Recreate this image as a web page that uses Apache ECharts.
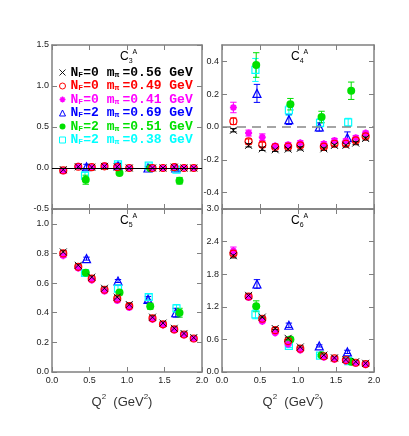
<!DOCTYPE html>
<html><head><meta charset="utf-8">
<script src="https://cdn.jsdelivr.net/npm/echarts@6/dist/echarts.min.js"></script>
<style>html,body{margin:0;padding:0;background:#fff}#c{width:409px;height:436px}</style>
</head><body><div id="c"></div>
<script>
// Q^2 values (GeV^2)
const q2Quenched = [0.15, 0.35, 0.53, 0.70, 0.87, 1.03, 1.34, 1.48, 1.63, 1.76, 1.89];
const q2Blue  = [0.46, 0.88, 1.28, 1.65];
const q2Green = [0.45, 0.90, 1.31, 1.70];
const q2Cyan  = [0.44, 0.88, 1.29, 1.66];

// C3^A
const c3Black   = [-0.02, 0.015, 0.01, 0.02, 0.015, 0.0, 0.0, 0.0, 0.01, 0.0, 0.0];
const c3Red     = [-0.03, 0.015, 0.01, 0.02, 0.01, 0.0, 0.0, 0.0, 0.01, 0.0, 0.0];
const c3Magenta = [-0.035, 0.02, 0.005, 0.028, 0.02, 0.0, 0.0, 0.0, 0.01, 0.005, 0.0];
const c3BlackErr   = [0.01, 0.01, 0.01, 0.01, 0.01, 0.01, 0.01, 0.01, 0.01, 0.01, 0.01];
const c3RedErr     = [0.02, 0.01, 0.01, 0.01, 0.01, 0.01, 0.01, 0.01, 0.01, 0.01, 0.01];
const c3MagentaErr = [0.03, 0.015, 0.015, 0.015, 0.015, 0.01, 0.01, 0.01, 0.01, 0.01, 0.01];
const c3Blue  = [0.015, 0.03, 0.0, 0.0];     const c3BlueErr  = [0.03, 0.02, 0.02, 0.02];
const c3Green = [-0.143, -0.061, -0.003, -0.155]; const c3GreenErr = [0.055, 0.02, 0.02, 0.04];
const c3Cyan  = [-0.094, 0.045, 0.028, -0.02]; const c3CyanErr  = [0.045, 0.02, 0.02, 0.02];

// C4^A
const c4Black   = [-0.02, -0.112, -0.133, -0.139, -0.135, -0.13, -0.133, -0.112, -0.112, -0.098, -0.07];
const c4Red     = [0.035, -0.088, -0.108, -0.122, -0.12, -0.112, -0.12, -0.102, -0.102, -0.082, -0.057];
const c4Magenta = [0.119, -0.037, -0.062, -0.115, -0.108, -0.096, -0.102, -0.082, -0.085, -0.065, -0.037];
const c4BlackErr   = [0.01, 0.01, 0.01, 0.01, 0.01, 0.01, 0.01, 0.01, 0.01, 0.01, 0.01];
const c4RedErr     = [0.02, 0.015, 0.015, 0.012, 0.012, 0.012, 0.012, 0.012, 0.012, 0.012, 0.012];
const c4MagentaErr = [0.032, 0.018, 0.02, 0.013, 0.013, 0.012, 0.012, 0.012, 0.012, 0.012, 0.012];
const c4Blue  = [0.205, 0.045, 0.0, -0.065];  const c4BlueErr  = [0.055, 0.03, 0.025, 0.035];
const c4Green = [0.378, 0.139, 0.061, 0.221]; const c4GreenErr = [0.075, 0.035, 0.035, 0.053];
const c4Cyan  = [0.348, 0.102, 0.025, 0.028]; const c4CyanErr  = [0.07, 0.03, 0.025, 0.025];

// C5^A
const c5Black   = [0.81, 0.72, 0.64, 0.565, 0.505, 0.455, 0.37, 0.33, 0.295, 0.26, 0.232];
const c5Red     = [0.80, 0.71, 0.63, 0.555, 0.495, 0.445, 0.362, 0.322, 0.287, 0.253, 0.226];
const c5Magenta = [0.785, 0.70, 0.62, 0.545, 0.482, 0.435, 0.355, 0.318, 0.283, 0.25, 0.225];
const c5BlackErr   = [0.01, 0.01, 0.01, 0.01, 0.01, 0.01, 0.01, 0.01, 0.01, 0.01, 0.01];
const c5RedErr     = [0.01, 0.01, 0.01, 0.01, 0.01, 0.01, 0.01, 0.01, 0.01, 0.01, 0.01];
const c5MagentaErr = [0.012, 0.01, 0.01, 0.01, 0.01, 0.01, 0.01, 0.01, 0.01, 0.01, 0.01];
const c5Blue  = [0.765, 0.614, 0.49, 0.40];  const c5BlueErr  = [0.01, 0.01, 0.02, 0.03];
const c5Green = [0.67, 0.536, 0.444, 0.40];  const c5GreenErr = [0.01, 0.015, 0.02, 0.03];
const c5Cyan  = [0.668, 0.563, 0.506, 0.43]; const c5CyanErr  = [0.015, 0.02, 0.02, 0.025];

// C6^A
const c6Black   = [2.14, 1.41, 1.01, 0.80, 0.62, 0.46, 0.31, 0.26, 0.23, 0.19, 0.16];
const c6Red     = [2.18, 1.39, 0.98, 0.77, 0.57, 0.43, 0.29, 0.25, 0.22, 0.17, 0.145];
const c6Magenta = [2.23, 1.37, 0.93, 0.72, 0.51, 0.40, 0.27, 0.23, 0.20, 0.16, 0.135];
const c6BlackErr   = [0.04, 0.03, 0.02, 0.02, 0.02, 0.02, 0.02, 0.02, 0.02, 0.02, 0.02];
const c6RedErr     = [0.04, 0.03, 0.02, 0.02, 0.02, 0.02, 0.02, 0.02, 0.02, 0.02, 0.02];
const c6MagentaErr = [0.07, 0.03, 0.02, 0.02, 0.02, 0.02, 0.02, 0.02, 0.02, 0.02, 0.02];
const c6Blue  = [1.62, 0.86, 0.48, 0.37];  const c6BlueErr  = [0.08, 0.04, 0.02, 0.03];
const c6Green = [1.21, 0.60, 0.31, 0.19];  const c6GreenErr = [0.1, 0.04, 0.02, 0.02];
const c6Cyan  = [1.06, 0.48, 0.30, 0.20];  const c6CyanErr  = [0.08, 0.03, 0.02, 0.02];

// Legend labels
const legendNf   = ['0', '0', '0', '2', '2', '2'];
const legendMass = ['0.56', '0.49', '0.41', '0.69', '0.51', '0.38'];

// Panel labels and axis ticks
const panelSub = ['3', '4', '5', '6'];
const xTicks = [0, 0.5, 1.0, 1.5, 2.0];
const c4Ticks = [-0.4, -0.2, 0, 0.2, 0.4];
const c5Ticks = [0, 0.2, 0.4, 0.6, 0.8, 1.0];

// ---------------------------------------------------------------
const colors = ['#000000', '#ff0000', '#ff00ff', '#0000ff', '#00e000', '#00ffff'];
const Xpath = 'path://M0,0L10,10M0,10L10,0';
const Apath = 'path://M5,0L5,10M0,5L10,5M1.6,1.6L8.4,8.4M1.6,8.4L8.4,1.6';
const names = legendMass.map((m, i) => 'NF' + legendNf[i] + ' m' + m);
const styles = [
  {symbol: Xpath, size: 7, fill: 'none', bw: 0.9},
  {symbol: 'circle', size: 7, fill: 'rgba(255,255,255,0)', bw: 1.2},
  {symbol: Apath, size: 7, fill: 'none', bw: 2},
  {symbol: 'triangle', size: 8, fill: 'rgba(255,255,255,0)', bw: 1.2},
  {symbol: 'circle', size: 8, fill: colors[4], bw: 0},
  {symbol: 'rect', size: 7, fill: 'rgba(255,255,255,0)', bw: 1.2}
];
const legendBw = [0.9, 1, 1.5, 1, 0, 1];
const xs = [q2Quenched, q2Quenched, q2Quenched, q2Blue, q2Green, q2Cyan];
const panels = [
  {v: [c3Black, c3Red, c3Magenta, c3Blue, c3Green, c3Cyan], e: [c3BlackErr, c3RedErr, c3MagentaErr, c3BlueErr, c3GreenErr, c3CyanErr]},
  {v: [c4Black, c4Red, c4Magenta, c4Blue, c4Green, c4Cyan], e: [c4BlackErr, c4RedErr, c4MagentaErr, c4BlueErr, c4GreenErr, c4CyanErr]},
  {v: [c5Black, c5Red, c5Magenta, c5Blue, c5Green, c5Cyan], e: [c5BlackErr, c5RedErr, c5MagentaErr, c5BlueErr, c5GreenErr, c5CyanErr]},
  {v: [c6Black, c6Red, c6Magenta, c6Blue, c6Green, c6Cyan], e: [c6BlackErr, c6RedErr, c6MagentaErr, c6BlueErr, c6GreenErr, c6CyanErr]}
];

const grids = [
  {left: 52, top: 45, width: 150, height: 164},
  {left: 222, top: 45, width: 152, height: 164},
  {left: 52, top: 209, width: 150, height: 163},
  {left: 222, top: 209, width: 152, height: 163}
];
const yCfg = [
  {min: -0.5, max: 1.5, interval: 0.5},
  {min: -0.5, max: 0.5, custom: c4Ticks},
  {min: 0, max: 1.1, custom: c5Ticks},
  {min: 0, max: 3.0, interval: 0.6}
];
const frame = '#808080';
const labelFont = {fontFamily: 'Liberation Sans', fontSize: 9, color: '#222'};

const xAxes = [], yAxes = [];
grids.forEach((g, p) => {
  const bottomPanel = p >= 2;
  const base = {
    type: 'value', gridIndex: p, min: 0, max: 2, interval: 0.5,
    axisLine: {show: true, onZero: false, lineStyle: {color: frame, width: 1.5}},
    axisTick: {show: true, inside: true, length: 5, lineStyle: {color: frame, width: 1}},
    splitLine: {show: false}
  };
  xAxes.push(Object.assign({}, base, {
    position: 'bottom',
    axisLabel: Object.assign({show: bottomPanel, margin: 4, formatter: v => v.toFixed(1),
      customValues: xTicks}, labelFont),
    name: bottomPanel ? '{t|Q}{p|2}{t|  (GeV}{p|2}{t|)}' : '',
    nameLocation: 'middle', nameGap: 21,
    nameTextStyle: {padding: [0, 10, 0, 0], rich: {
      t: {fontFamily: 'Liberation Sans', fontSize: 13, color: '#333', lineHeight: 16, verticalAlign: 'bottom'},
      p: {fontFamily: 'Liberation Sans', fontSize: 8, color: '#333', lineHeight: 16, verticalAlign: 'top'}
    }}
  }));
  xAxes.push(Object.assign({}, base, {position: 'top', axisLabel: {show: false}}));
  const c = yCfg[p];
  const ybase = {
    type: 'value', gridIndex: p, min: c.min, max: c.max,
    axisLine: {show: true, onZero: false, lineStyle: {color: frame, width: 1.5}},
    splitLine: {show: false}
  };
  if (c.interval) ybase.interval = c.interval;
  const tick = {show: true, inside: true, length: 5, lineStyle: {color: frame, width: 1}};
  if (c.custom) tick.customValues = c.custom;
  const lab = Object.assign({show: true, margin: 3, formatter: v => v.toFixed(1)}, labelFont);
  if (c.custom) lab.customValues = c.custom;
  yAxes.push(Object.assign({}, ybase, {position: 'left', axisTick: tick, axisLabel: lab}));
  yAxes.push(Object.assign({}, ybase, {position: 'right', axisTick: tick, axisLabel: {show: false}}));
});

function errRender(params, api) {
  const x = api.value(0);
  const lo = api.coord([x, api.value(1)]);
  const hi = api.coord([x, api.value(2)]);
  const w = 3.2;
  const st = {stroke: api.visual('color'), lineWidth: 1};
  return {type: 'group', children: [
    {type: 'line', shape: {x1: lo[0], y1: lo[1], x2: hi[0], y2: hi[1]}, style: st},
    {type: 'line', shape: {x1: lo[0] - w, y1: lo[1], x2: lo[0] + w, y2: lo[1]}, style: st},
    {type: 'line', shape: {x1: hi[0] - w, y1: hi[1], x2: hi[0] + w, y2: hi[1]}, style: st}
  ]};
}

const drawOrder = [3, 5, 4, 2, 1, 0];
const series = [];
panels.forEach((pn, p) => {
  drawOrder.forEach(s => {
    const st = styles[s];
    const vals = pn.v[s], errs = pn.e[s];
    series.push({
      type: 'custom', name: names[s] + ' err', xAxisIndex: 2 * p, yAxisIndex: 2 * p,
      renderItem: errRender, itemStyle: {color: colors[s]}, silent: true,
      encode: {x: 0, y: [1, 2]},
      data: xs[s].map((x, i) => [x, vals[i] - errs[i], vals[i] + errs[i]])
    });
    series.push({
      type: 'scatter', name: names[s], xAxisIndex: 2 * p, yAxisIndex: 2 * p,
      symbol: st.symbol, symbolSize: st.size,
      itemStyle: {color: st.fill, borderColor: colors[s], borderWidth: st.bw, opacity: 1},
      data: xs[s].map((x, i) => [x, vals[i]])
    });
  });
});
// zero lines
series.push({type: 'line', xAxisIndex: 0, yAxisIndex: 0, data: [], silent: true,
  markLine: {silent: true, symbol: ['none', 'none'], label: {show: false},
    lineStyle: {color: '#000', type: 'solid', width: 1}, data: [{yAxis: 0}]}});
series.push({type: 'line', xAxisIndex: 2, yAxisIndex: 2, data: [], silent: true,
  markLine: {silent: true, symbol: ['none', 'none'], label: {show: false},
    lineStyle: {color: '#888', type: [9, 6], width: 1.5}, data: [{yAxis: 0}]}});

// legend rich styles
const rich = {};
colors.forEach((c, i) => {
  rich['n' + i] = {fontFamily: 'Liberation Mono', fontWeight: 'bold', fontSize: 13, color: c, lineHeight: 12, verticalAlign: 'middle'};
  rich['s' + i] = {fontFamily: 'Liberation Mono', fontWeight: 'bold', fontSize: 8, color: c, lineHeight: 7, verticalAlign: 'bottom', width: 5};
  rich['p' + i] = {fontFamily: 'Liberation Mono', fontWeight: 'bold', fontSize: 8, color: c, lineHeight: 7, verticalAlign: 'bottom', width: 8};
});

// titles
const titleRich = {
  c: {fontFamily: 'Liberation Sans', fontSize: 12, color: '#333', lineHeight: 16, verticalAlign: 'middle'},
  s: {fontFamily: 'Liberation Sans', fontSize: 7, color: '#333', lineHeight: 7, verticalAlign: 'bottom'},
  u: {fontFamily: 'Liberation Sans', fontSize: 7, color: '#333', lineHeight: 7, verticalAlign: 'top'}
};
const graphics = grids.map((g, p) => ({
  type: 'text', x: g.left + g.width / 2 - 7, y: g.top + 12,
  style: {text: '{c|C}{s|' + panelSub[p] + '}{u|A}', rich: titleRich, align: 'left', verticalAlign: 'middle'}
}));

const chart = echarts.init(document.getElementById('c'), null, {renderer: 'canvas'});
chart.setOption({
  animation: false,
  backgroundColor: '#fff',
  grid: grids,
  xAxis: xAxes,
  yAxis: yAxes,
  legend: {
    show: true, orient: 'vertical', left: 57, top: 66, padding: 0, itemWidth: 6, itemHeight: 6, itemGap: 0.5,
    selectedMode: false,
    data: names.map((n, i) => ({name: n, itemStyle: {borderWidth: legendBw[i]}})),
    formatter: function (name) {
      const i = names.indexOf(name);
      return '{n' + i + '|N}{s' + i + '|F}{n' + i + '|=' + legendNf[i] + ' m}{p' + i + '|π}{n' + i + '|=' + legendMass[i] + ' GeV}';
    },
    textStyle: {rich: rich}
  },
  graphic: graphics,
  series: series
});
</script></body></html>
